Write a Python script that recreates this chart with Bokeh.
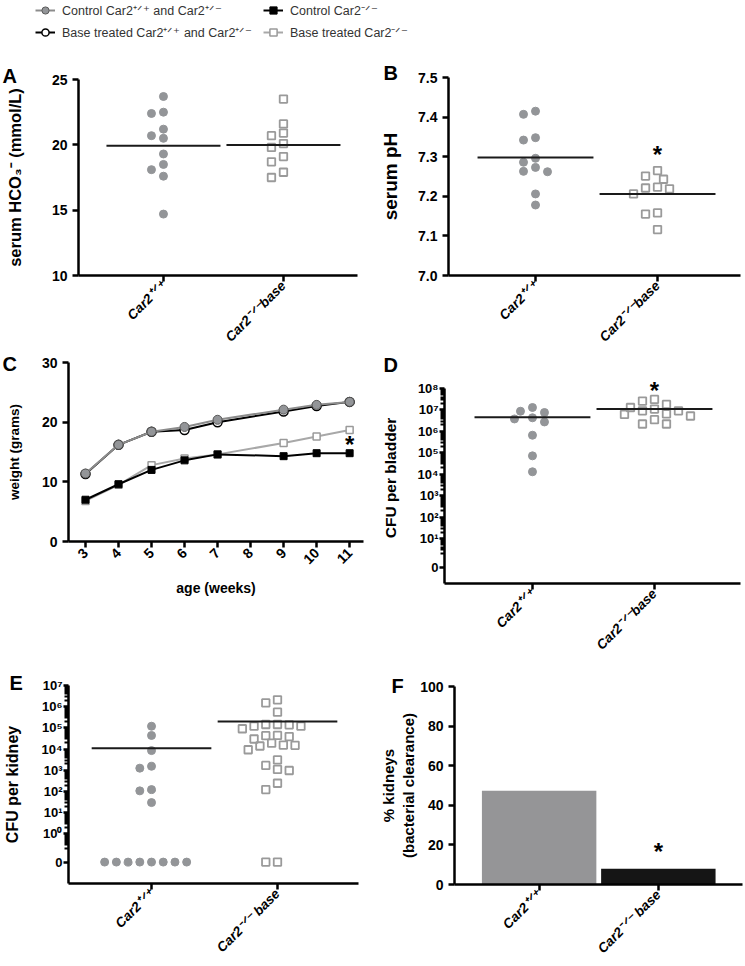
import math
import numpy as np
from bokeh.plotting import figure
from bokeh.models import (Range1d, FixedTicker, Label, Legend, LegendItem,
                          ColumnDataSource)
from bokeh.layouts import column, row
from bokeh.embed import file_html
from bokeh.resources import INLINE

FONT = "Liberation Sans"
GRAY = "#939598"
SQ_GRAY = "#9a9a9a"

# ------------------------------------------------------------------ data
group_labels = ["Car2⁺ᐟ⁺", "Car2⁻ᐟ⁻base"]
group_labels_sp = ["Car2⁺ᐟ⁺", "Car2⁻ᐟ⁻ base"]

# A: serum HCO3- (mmol/L)
hco3_ctrl = [23.7, 22.4, 22.5, 21.2, 20.7, 20.5, 19.3, 18.5, 18.1, 17.6, 14.7]
hco3_base = [23.5, 21.6, 20.9, 20.7, 20.1, 19.8, 19.1, 18.7, 17.9, 17.5]

# B: serum pH
ph_ctrl = [7.407, 7.415, 7.348, 7.342, 7.286, 7.296, 7.263, 7.262, 7.273, 7.206, 7.178]
ph_base = [7.251, 7.243, 7.265, 7.219, 7.206, 7.221, 7.223, 7.158, 7.155, 7.116]

# C: weight (grams) by age (weeks)
weeks = [3, 4, 5, 6, 7, 9, 10, 11]
week_ticks = [3, 4, 5, 6, 7, 8, 9, 10, 11]
weight_ctrl_wt = [11.4, 16.2, 18.4, 19.2, 20.4, 22.1, 22.9, 23.4]
weight_base_wt = [11.3, 16.2, 18.4, 18.7, 20.0, 21.8, 22.7, 23.4]
weight_ctrl_ko = [7.0, 9.6, 12.0, 13.6, 14.6, 14.3, 14.8, 14.8]
weight_base_ko = [6.8, 9.5, 12.8, 13.9, 14.6, 16.5, 17.6, 18.7]
legend_labels = ["Control Car2⁺ᐟ⁺ and Car2⁺ᐟ⁻",
                 "Base treated Car2⁺ᐟ⁺ and Car2⁺ᐟ⁻",
                 "Control Car2⁻ᐟ⁻",
                 "Base treated Car2⁻ᐟ⁻"]

# D: CFU per bladder
bladder_ctrl = [7.6e6, 1.3e7, 8.7e6, 3.8e6, 2.75e6, 4.3e6, 6.6e5, 7.2e4, 1.3e4]
bladder_base = [2.6e7, 1.3e7, 9.1e6, 9.1e6, 1.1e7, 1.8e7, 3.1e7, 6.2e6, 3.5e6,
                2.2e6, 2.2e6, 5.2e6, 6.6e6]

# E: CFU per kidney
kidney_ctrl = [1.2e5, 4.4e4, 8.5e3, 1.55e3, 1.26e3, 107, 123, 30,
               0, 0, 0, 0, 0, 0, 0, 0]
kidney_base = [2.1e6, 1.5e6, 5.5e5, 1.45e5, 1.4e5, 1.45e5, 1.2e5, 9.1e4, 1.2e5,
               4.4e4, 3.9e4, 4.3e4, 3.0e4, 1.55e4, 1.4e4, 9.3e3, 1.5e4, 1.9e4,
               3.1e3, 1.7e3, 980, 1.1e3, 245, 123, 0, 0]

# F: % kidneys with bacterial clearance
clearance_pct = [47.3, 8.0]

bladder_ticks = [1, 2, 3, 4, 5, 6, 7, 8]
kidney_ticks = [0, 1, 2, 3, 4, 5, 6, 7]
SUP = str.maketrans("0123456789", "⁰¹²³⁴⁵⁶⁷⁸⁹")

# ------------------------------------------------------------------ helpers
def spec(w, h, bl, br, bt, bb, xr, yr):
    s = dict(w=w, h=h, bl=bl, br=br, bt=bt, bb=bb, xr=xr, yr=yr)
    s["sx"] = (w - bl - br) / (xr[1] - xr[0])
    s["sy"] = (h - bt - bb) / (yr[1] - yr[0])
    return s


def style_axis(ax, size="14px"):
    ax.axis_line_width = 2.5
    ax.axis_line_color = "black"
    ax.major_tick_line_width = 2.5
    ax.major_tick_line_color = "black"
    ax.major_tick_out = 6
    ax.major_tick_in = 0
    ax.minor_tick_line_color = None
    ax.major_label_text_font = FONT
    ax.major_label_text_font_style = "bold"
    ax.major_label_text_font_size = size
    ax.major_label_text_color = "black"
    ax.axis_label_text_font = FONT
    ax.axis_label_text_font_style = "bold"
    ax.axis_label_text_font_size = "14px"
    ax.axis_label_text_color = "black"


def make_panel(s, letter, letter_x, letter_top):
    p = figure(width=s["w"], height=s["h"],
               x_range=Range1d(*s["xr"]), y_range=Range1d(*s["yr"]),
               min_border_left=s["bl"], min_border_right=s["br"],
               min_border_top=s["bt"], min_border_bottom=s["bb"],
               output_backend="svg", toolbar_location=None, tools="")
    p.xgrid.visible = False
    p.ygrid.visible = False
    p.outline_line_color = None
    style_axis(p.xaxis[0])
    style_axis(p.yaxis[0])
    # panel letter as the figure title (text bottom sits standoff/2 above the frame)
    p.title.text = letter
    p.title.align = "left"
    p.title.offset = letter_x - s["bl"]
    p.title.standoff = 2 * (s["bt"] - 18.5 - letter_top)
    p.title.text_font = FONT
    p.title.text_font_style = "bold"
    p.title.text_font_size = "20px"
    p.title.text_color = "black"
    return p


def category_axis(p, labels):
    ax = p.xaxis[0]
    ax.ticker = FixedTicker(ticks=[1, 2])
    ax.major_label_overrides = {1: labels[0], 2: labels[1]}
    ax.major_label_orientation = math.pi / 4
    ax.major_label_text_font_style = "bold italic"
    ax.major_label_text_font_size = "13.5px"
    ax.major_label_standoff = 2


def log_axis(ax, zero_pos, ticks, minor_decades):
    ax.ticker = FixedTicker(ticks=[zero_pos] + ticks,
                            minor_ticks=[d + math.log10(k) for d in minor_decades
                                         for k in range(2, 10)])
    ax.major_label_overrides = {zero_pos: "0",
                                **{t: "10" + str(t).translate(SUP) for t in ticks}}
    ax.major_label_text_font_size = "13px"
    ax.major_tick_out = 5
    ax.major_label_standoff = 1
    ax.minor_tick_line_color = "black"
    ax.minor_tick_line_width = 2
    ax.minor_tick_out = 4
    ax.minor_tick_in = 0


def swarm(yvals, s, step=6.0, mind=9.0):
    """Deterministic beeswarm: pixel offsets so markers do not overlap."""
    order = sorted(range(len(yvals)), key=lambda i: -yvals[i])
    placed, offs = [], [0.0] * len(yvals)
    cands = [0]
    for m in range(1, 40):
        cands += [-m, m]
    for i in order:
        y = yvals[i] * s["sy"]
        for c in cands:
            x = c * step
            if all((x - px) ** 2 + (y - py) ** 2 >= mind ** 2 for px, py in placed):
                placed.append((x, y))
                offs[i] = x / s["sx"]
                break
    return offs


def star(p, x, y):
    p.add_layout(Label(x=x, y=y, text="*", text_font=FONT, text_font_style="bold",
                       text_font_size="24px", text_align="center",
                       text_baseline="middle", y_offset=-5, text_color="black"))


def dots(p, s, cat, vals, kind):
    offs = swarm(vals, s)
    src = ColumnDataSource(dict(x=[cat + o for o in offs], y=vals))
    if kind == "circle":
        p.scatter("x", "y", source=src, marker="circle", size=8,
                  fill_color=GRAY, line_color=GRAY)
    else:
        p.scatter("x", "y", source=src, marker="square", size=7.5,
                  fill_alpha=0, line_color=SQ_GRAY, line_width=1.8)


def mean_line(p, cat, m):
    p.segment(x0=[cat - 0.475], y0=[m], x1=[cat + 0.475], y1=[m],
              line_color="#1a1a1a", line_width=2)


def to_log(vals, zero_pos):
    return [math.log10(v) if v > 0 else zero_pos for v in vals]


series_style = [
    dict(lc="#8c8c8c", marker="circle", size=9, fill=GRAY, mlc="#5a5a5a", lw=1),
    dict(lc="black", marker="circle", size=9, fill="white", mlc="black", lw=1.5),
    dict(lc="black", marker="square", size=7, fill="black", mlc="black", lw=1),
    dict(lc="#a8a8a8", marker="square", size=7, fill="white", mlc=SQ_GRAY, lw=1.5),
]


def series(fig, src, st):
    l = fig.line("x", "y", source=src, line_color=st["lc"], line_width=2)
    m = fig.scatter("x", "y", source=src, marker=st["marker"], size=st["size"],
                    fill_color=st["fill"], line_color=st["mlc"], line_width=st["lw"])
    return [l, m]


# weight series sources (shared by panel C and the legend strip)
src_ctrl_wt = ColumnDataSource(dict(x=weeks, y=weight_ctrl_wt))
src_base_wt = ColumnDataSource(dict(x=weeks, y=weight_base_wt))
src_ctrl_ko = ColumnDataSource(dict(x=weeks, y=weight_ctrl_ko))
src_base_ko = ColumnDataSource(dict(x=weeks, y=weight_base_ko))
series_sources = [src_ctrl_wt, src_base_wt, src_ctrl_ko, src_base_ko]

# ------------------------------------------------------------------ legend strip
leg = figure(width=745, height=46, x_range=Range1d(0, 1), y_range=Range1d(0, 1),
             x_axis_location=None, y_axis_location=None, min_border=0,
             output_backend="svg", toolbar_location=None, tools="")
leg.outline_line_color = None
leg.xgrid.visible = False
leg.ygrid.visible = False

leg_items = []
for lab, st, src in zip(legend_labels, series_style, series_sources):
    rs = series(leg, src, st)      # data lie outside this strip's range: only the legend shows
    leg_items.append(LegendItem(label=lab, renderers=rs))

for items, xloc in ((leg_items[:2], 35), (leg_items[2:], 263)):
    lg = Legend(items=items, location=(xloc, 5), orientation="vertical",
                glyph_width=20, glyph_height=18, label_height=18, spacing=4,
                padding=0, margin=0, label_standoff=7, label_text_font=FONT,
                label_text_font_size="12.5px", label_text_color="#333333",
                border_line_color=None, background_fill_alpha=0)
    leg.add_layout(lg)

# ------------------------------------------------------------------ A
sA = spec(376, 306, 78, 19, 33, 75, (0.292, 2.617), (10, 25))
pA = make_panel(sA, "A", 2, 22)
category_axis(pA, group_labels)
pA.yaxis[0].ticker = FixedTicker(ticks=[10, 15, 20, 25])
pA.yaxis[0].axis_label = "serum HCO₃⁻ (mmol/L)"
pA.yaxis[0].axis_label_text_font_size = "16.5px"
pA.yaxis[0].axis_label_standoff = 25
dots(pA, sA, 1, hco3_ctrl, "circle")
dots(pA, sA, 2, hco3_base, "square")
mean_line(pA, 1, np.mean(hco3_ctrl))
mean_line(pA, 2, np.mean(hco3_base))

# ------------------------------------------------------------------ B
sB = spec(369, 306, 72, 5, 31, 77, (0.287, 2.680), (7.0, 7.5))
pB = make_panel(sB, "B", 7, 19)
category_axis(pB, group_labels)
pB.yaxis[0].ticker = FixedTicker(ticks=[7.0, 7.1, 7.2, 7.3, 7.4, 7.5])
pB.yaxis[0].major_label_overrides = {t: f"{t:.1f}" for t in [7.0, 7.1, 7.2, 7.3, 7.4, 7.5]}
pB.yaxis[0].axis_label = "serum pH"
pB.yaxis[0].axis_label_text_font_size = "19px"
pB.yaxis[0].axis_label_standoff = 14
dots(pB, sB, 1, ph_ctrl, "circle")
dots(pB, sB, 2, ph_base, "square")
mean_line(pB, 1, np.mean(ph_ctrl))
mean_line(pB, 2, np.mean(ph_base))
star(pB, 2, 7.317)

# ------------------------------------------------------------------ C
sC = spec(376, 312, 68, 13, 10, 123, (2.485, 11.42), (0, 30))
pC = make_panel(sC, "C", 2, 4)
pC.xaxis[0].ticker = FixedTicker(ticks=week_ticks)
pC.xaxis[0].major_label_orientation = math.pi / 4
pC.xaxis[0].major_label_standoff = 3
pC.xaxis[0].axis_label = "age (weeks)"
pC.xaxis[0].axis_label_standoff = 8
pC.yaxis[0].ticker = FixedTicker(ticks=[0, 10, 20, 30])
pC.yaxis[0].axis_label = "weight (grams)"
pC.yaxis[0].axis_label_text_font_size = "13.5px"
pC.yaxis[0].axis_label_standoff = 17
series(pC, src_base_wt, series_style[1])
series(pC, src_ctrl_wt, series_style[0])
series(pC, src_base_ko, series_style[3])
series(pC, src_ctrl_ko, series_style[2])
star(pC, 11, 17.06)

# ------------------------------------------------------------------ D
D_ZERO = -0.35
sD = spec(369, 312, 68, 5, 20, 81, (0.279, 2.705), (-1.1, 8.747))
pD = make_panel(sD, "D", 7, 4.5)
category_axis(pD, group_labels)
yD = pD.yaxis[0]
log_axis(yD, D_ZERO, bladder_ticks, range(0, 8))
yD.bounds = (-1.1, 8)
yD.axis_label = "CFU per bladder"
yD.axis_label_text_font_size = "15.5px"
yD.axis_label_standoff = 16
dots(pD, sD, 1, to_log(bladder_ctrl, D_ZERO), "circle")
dots(pD, sD, 2, to_log(bladder_base, D_ZERO), "square")
mean_line(pD, 1, math.log10(np.mean(bladder_ctrl)))
mean_line(pD, 2, math.log10(np.mean(bladder_base)))
star(pD, 2, 8.12)

# ------------------------------------------------------------------ E
E_ZERO = -1.33
sE = spec(376, 302, 61, 18, 21, 83, (0.341, 2.643), (-2.34, 7))
pE = make_panel(sE, "E", 2, 11)
category_axis(pE, group_labels_sp)
yE = pE.yaxis[0]
log_axis(yE, E_ZERO, kidney_ticks, range(-1, 7))
yE.axis_label = "CFU per kidney"
yE.axis_label_text_font_size = "16px"
yE.axis_label_standoff = 18
dots(pE, sE, 1, to_log(kidney_ctrl, E_ZERO), "circle")
dots(pE, sE, 2, to_log(kidney_base, E_ZERO), "square")
mean_line(pE, 1, math.log10(np.mean(kidney_ctrl)))
mean_line(pE, 2, math.log10(np.mean(kidney_base)))

# ------------------------------------------------------------------ F
sF = spec(369, 302, 70, 3, 22, 82, (0.290, 2.706), (0, 100))
pF = make_panel(sF, "F", 7, 14)
category_axis(pF, group_labels_sp)
pF.yaxis[0].ticker = FixedTicker(ticks=[0, 20, 40, 60, 80, 100])
pF.yaxis[0].axis_label = "% kidneys\n(bacterial clearance)"
pF.yaxis[0].axis_label_text_font_size = "15px"
pF.yaxis[0].axis_label_standoff = 0
pF.vbar(x=[1, 2], top=clearance_pct, width=0.96, bottom=0,
        fill_color=["#959597", "#151515"], line_color=None)
star(pF, 2, 19.3)

# each figure sits in its own column so that rows do not align their frames
layout = column(leg,
                row(column(pA), column(pB)),
                row(column(pC), column(pD)),
                row(column(pE), column(pF)))
open("out.html", "w").write(file_html(layout, INLINE))
